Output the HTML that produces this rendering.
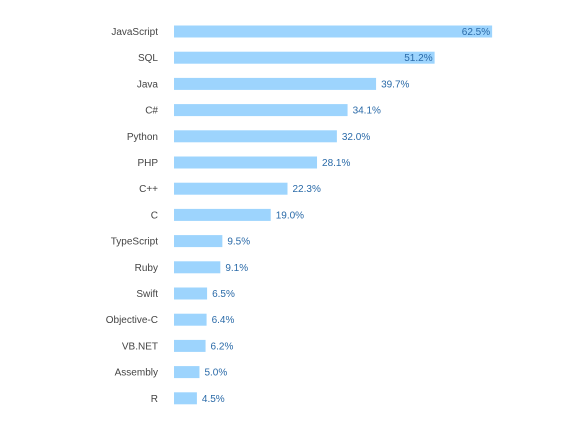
<!DOCTYPE html>
<html><head><meta charset="utf-8"><style>
body{margin:0;background:#fff;width:585px;height:416px;overflow:hidden;font-family:"Liberation Sans",sans-serif;}
svg text{font-size:10px;}
</style></head><body>
<svg id="chart" width="585" height="416" xmlns="http://www.w3.org/2000/svg"></svg>
<script>
const categories=["JavaScript","SQL","Java","C#","Python","PHP","C++","C","TypeScript","Ruby","Swift","Objective-C","VB.NET","Assembly","R"];
const values=[62.5,51.2,39.7,34.1,32.0,28.1,22.3,19.0,9.5,9.1,6.5,6.4,6.2,5.0,4.5];
const valueLabels=["62.5%","51.2%","39.7%","34.1%","32.0%","28.1%","22.3%","19.0%","9.5%","9.1%","6.5%","6.4%","6.2%","5.0%","4.5%"];
const svg=document.getElementById('chart');
const NS="http://www.w3.org/2000/svg";
const x0=174, pxPer=5.09, y0=31.5, step=26.2, bh=12;
const xScale=v=>v*pxPer;
const yScale=i=>y0+i*step;
categories.forEach((c,i)=>{
  const yc=yScale(i), w=xScale(values[i]);
  const t=document.createElementNS(NS,'text');
  
  
  t.setAttribute('x',158);t.setAttribute('y',yc+3.5);t.setAttribute('text-anchor','end');t.setAttribute('fill','#444');
  t.textContent=c;svg.appendChild(t);
  const r=document.createElementNS(NS,'rect');
  
  
  r.setAttribute('x',x0);r.setAttribute('y',yc-bh/2);r.setAttribute('width',w);r.setAttribute('height',bh);r.setAttribute('fill','#9dd4fd');
  svg.appendChild(r);
  const v=document.createElementNS(NS,'text');
  
  
  const inside=w>240;
  v.setAttribute('x',inside?x0+w-2:x0+w+5);v.setAttribute('y',yc+3.5);
  v.setAttribute('text-anchor',inside?'end':'start');v.setAttribute('fill','#2a6aa8');
  v.textContent=valueLabels[i];svg.appendChild(v);
});
</script>
</body></html>
